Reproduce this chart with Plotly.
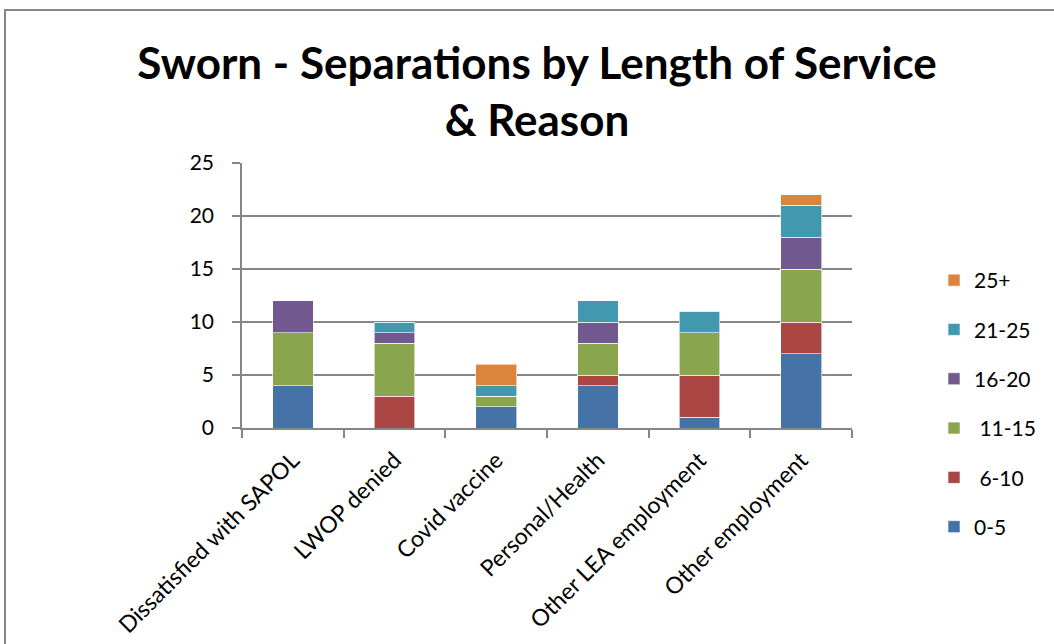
import plotly.graph_objects as go

categories = ["Dissatisfied with SAPOL", "LWOP denied", "Covid vaccine",
              "Personal/Health", "Other LEA employment", "Other employment"]
series_names = ["0-5", " 6-10", " 11-15", "16-20", "21-25", "25+"]
s_0_5 = [4, 0, 2, 4, 1, 7]
s_6_10 = [0, 3, 0, 1, 4, 3]
s_11_15 = [5, 5, 1, 3, 4, 5]
s_16_20 = [3, 1, 0, 2, 0, 3]
s_21_25 = [0, 1, 1, 2, 2, 3]
s_25p = [0, 0, 2, 0, 0, 1]
colors = ["#4572A7", "#AA4643", "#89A54E", "#71588F", "#4198AF", "#DB843D"]
y_ticks = [0, 5, 10, 15, 20, 25]

series = [s_0_5, s_6_10, s_11_15, s_16_20, s_21_25, s_25p]

fig = go.Figure()
n = len(series)
for i, (name, vals, col) in enumerate(zip(series_names, series, colors)):
    fig.add_trace(go.Bar(
        x=categories, y=vals, name=name, legendgroup="g%d" % i,
        legendrank=n - i,
        marker=dict(color=col, line=dict(color="rgba(255,255,255,0.6)", width=1)),
    ))

W, H = 1054, 644
l, r, t, b = 242, 202, 163, 216
pw, ph = W - l - r, H - t - b
FONT = "Lato, Open Sans, sans-serif"

fig.update_layout(
    width=W, height=H,
    barmode="stack", bargap=0.6,
    margin=dict(l=l, r=r, t=t, b=b, autoexpand=False),
    paper_bgcolor="white", plot_bgcolor="white",
    font=dict(family=FONT, color="black", size=21),
    title=dict(
        text="<b>Sworn - Separations by Length of Service<br>& Reason</b>",
        x=(537 - l) / pw, xref="paper", xanchor="center",
        y=1 - 79 / H, yref="container", yanchor="middle",
        font=dict(size=44, family=FONT),
    ),
    legend=dict(
        traceorder="grouped", x=(934 - l) / pw, xanchor="left",
        y=1 - (260 - t) / ph, yanchor="top",
        font=dict(size=21), tracegroupgap=19, itemwidth=30,
        bgcolor="rgba(0,0,0,0)", maxheight=400,
    ),
    xaxis=dict(
        showgrid=False, showline=True, linecolor="#868686", linewidth=1.5,
        ticks="outside", ticklen=8, tickcolor="#868686", tickwidth=1.5,
        tickson="boundaries", tickangle=-45, tickfont=dict(size=23),
        ticklabelstandoff=8,
    ),
    yaxis=dict(
        range=[0, 25], tickvals=y_ticks, showgrid=True, gridcolor="#868686",
        gridwidth=1.5, showline=True, linecolor="#868686", linewidth=1.5,
        ticks="outside", ticklen=8, tickcolor="#868686", tickwidth=1.5,
        tickfont=dict(size=21), zeroline=False, ticklabelstandoff=14,
    ),
    shapes=[dict(
        type="rect", xref="paper", yref="paper",
        x0=(5 - l) / pw, x1=(1200 - l) / pw,
        y0=1 - (800 - t) / ph, y1=1 + (t - 10) / ph,
        line=dict(color="#868686", width=2), fillcolor="rgba(0,0,0,0)", layer="below",
    )],
)

fig.write_html("out.html")
